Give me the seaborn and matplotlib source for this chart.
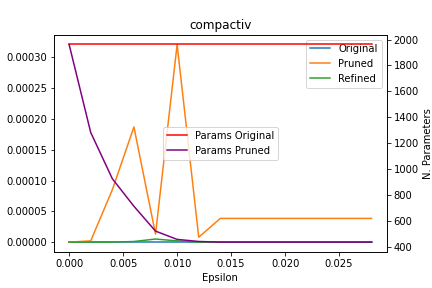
import matplotlib
matplotlib.use("Agg")
import matplotlib.pyplot as plt
import seaborn as sns

# data
epsilon = [0.000, 0.002, 0.004, 0.006, 0.008, 0.010, 0.012, 0.014,
           0.016, 0.018, 0.020, 0.022, 0.024, 0.026, 0.028]

err_original = [0.0, 0.0, 0.0, 0.0, 0.0, 0.0, 0.0, 0.0,
                0.0, 0.0, 0.0, 0.0, 0.0, 0.0, 0.0]
err_pruned = [0.0, 0.000002, 0.000085, 0.000187, 0.000013, 0.000321, 0.000008, 0.0000385,
              0.0000385, 0.0000385, 0.0000385, 0.0000385, 0.0000385, 0.0000385, 0.0000385]
err_refined = [0.0, 0.0, 0.0, 0.000001, 0.000005, 0.000002, 0.0, 0.0,
               0.0, 0.0, 0.0, 0.0, 0.0, 0.0, 0.0]

params_original = [1962, 1962, 1962, 1962, 1962, 1962, 1962, 1962,
                   1962, 1962, 1962, 1962, 1962, 1962, 1962]
params_pruned = [1962, 1282, 925, 712, 520, 456, 440, 435,
                 435, 435, 435, 435, 435, 435, 435]

fig, ax = plt.subplots(figsize=(6, 4), dpi=72)

sns.lineplot(x=epsilon, y=err_original, ax=ax, label="Original", color="tab:blue")
sns.lineplot(x=epsilon, y=err_pruned, ax=ax, label="Pruned", color="tab:orange")
sns.lineplot(x=epsilon, y=err_refined, ax=ax, label="Refined", color="tab:green")
ax.set_xlabel("Epsilon")
ax.set_title("compactiv")
ax.legend(loc="upper right")

ax2 = ax.twinx()
sns.lineplot(x=epsilon, y=params_original, ax=ax2, label="Params Original", color="red")
sns.lineplot(x=epsilon, y=params_pruned, ax=ax2, label="Params Pruned", color="purple")
ax2.set_ylabel("N. Parameters")
ax2.legend(loc="center")

plt.subplots_adjust(left=0.125, right=0.895, top=0.88, bottom=0.125)
plt.savefig("out.png", dpi=72)
